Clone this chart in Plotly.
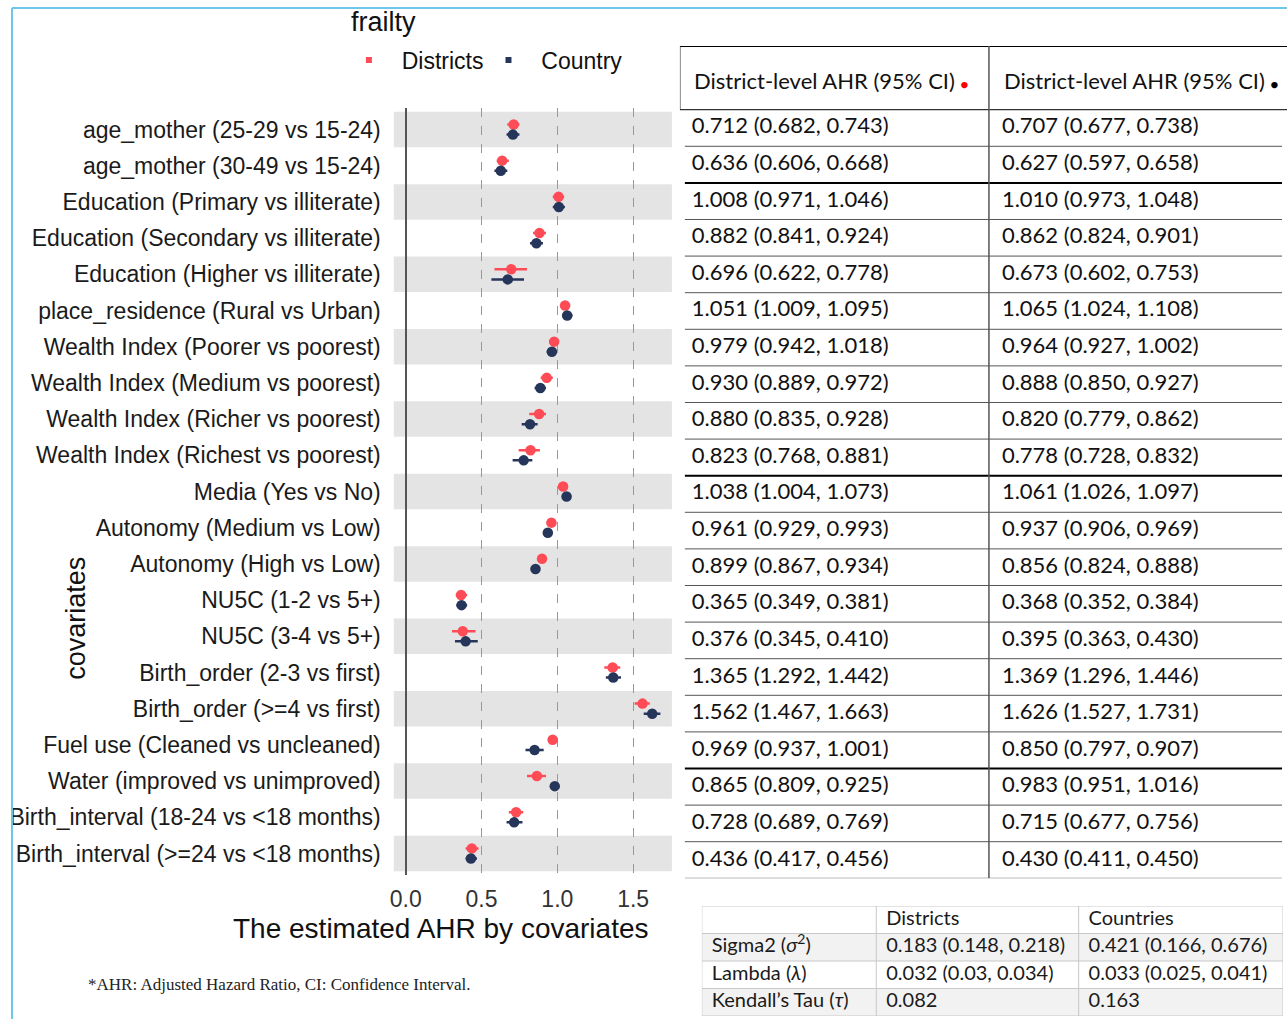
import plotly.graph_objects as go

# ---------------- data ----------------
covariates = [
    "age_mother (25-29 vs 15-24)", "age_mother (30-49 vs 15-24)",
    "Education (Primary vs illiterate)", "Education (Secondary vs illiterate)",
    "Education (Higher vs illiterate)", "place_residence (Rural vs Urban)",
    "Wealth Index (Poorer vs poorest)", "Wealth Index (Medium vs poorest)",
    "Wealth Index (Richer vs poorest)", "Wealth Index (Richest vs poorest)",
    "Media (Yes vs No)", "Autonomy (Medium vs Low)", "Autonomy (High vs Low)",
    "NU5C (1-2 vs 5+)", "NU5C (3-4 vs 5+)", "Birth_order (2-3 vs first)",
    "Birth_order (>=4 vs first)", "Fuel use (Cleaned vs uncleaned)",
    "Water (improved vs unimproved)", "Birth_interval (18-24 vs <18 months)",
    "Birth_interval (>=24 vs <18 months)",
]

# table values (AHR, 95% CI)
district_ahr = [0.712, 0.636, 1.008, 0.882, 0.696, 1.051, 0.979, 0.930, 0.880, 0.823, 1.038,
                0.961, 0.899, 0.365, 0.376, 1.365, 1.562, 0.969, 0.865, 0.728, 0.436]
district_lo = [0.682, 0.606, 0.971, 0.841, 0.622, 1.009, 0.942, 0.889, 0.835, 0.768, 1.004,
               0.929, 0.867, 0.349, 0.345, 1.292, 1.467, 0.937, 0.809, 0.689, 0.417]
district_hi = [0.743, 0.668, 1.046, 0.924, 0.778, 1.095, 1.018, 0.972, 0.928, 0.881, 1.073,
               0.993, 0.934, 0.381, 0.410, 1.442, 1.663, 1.001, 0.925, 0.769, 0.456]
country_ahr = [0.707, 0.627, 1.010, 0.862, 0.673, 1.065, 0.964, 0.888, 0.820, 0.778, 1.061,
               0.937, 0.856, 0.368, 0.395, 1.369, 1.626, 0.850, 0.983, 0.715, 0.430]
country_lo = [0.677, 0.597, 0.973, 0.824, 0.602, 1.024, 0.927, 0.850, 0.779, 0.728, 1.026,
              0.906, 0.824, 0.352, 0.363, 1.296, 1.527, 0.797, 0.951, 0.677, 0.411]
country_hi = [0.738, 0.658, 1.048, 0.901, 0.753, 1.108, 1.002, 0.927, 0.862, 0.832, 1.097,
              0.969, 0.888, 0.384, 0.430, 1.446, 1.731, 0.907, 1.016, 0.756, 0.450]

# error-bar extents as drawn in the forest plot
plot_district_lo = [0.67, 0.60, 0.97, 0.84, 0.585, 1.02, 0.945, 0.89, 0.815, 0.745, 1.01,
                    0.93, 0.87, 0.33, 0.305, 1.31, 1.51, 0.94, 0.80, 0.68, 0.395]
plot_district_hi = [0.75, 0.68, 1.045, 0.925, 0.80, 1.085, 1.01, 0.97, 0.925, 0.885, 1.07,
                    0.99, 0.93, 0.405, 0.46, 1.415, 1.61, 1.00, 0.925, 0.775, 0.48]
plot_country_lo = [0.665, 0.585, 0.97, 0.82, 0.565, 1.035, 0.93, 0.85, 0.765, 0.705, 1.03,
                   0.91, 0.825, 0.335, 0.325, 1.32, 1.57, 0.79, 0.96, 0.665, 0.395]
plot_country_hi = [0.75, 0.67, 1.05, 0.905, 0.78, 1.10, 1.00, 0.925, 0.87, 0.835, 1.09,
                   0.97, 0.885, 0.405, 0.475, 1.42, 1.68, 0.91, 1.00, 0.77, 0.47]

xtick_vals = [0.0, 0.5, 1.0, 1.5]
xtick_text = ["0.0", "0.5", "1.0", "1.5"]
series_names = ["Districts", "Country"]
legend_title = "frailty"
x_title = "The estimated AHR by covariates"
y_title = "covariates"
table_header = "District-level AHR (95% CI)"
thick_after = [1, 9, 17]

frailty_cols = ["", "Districts", "Countries"]
frailty_rows = ["Sigma2 (<i>σ</i><sup>2</sup>)", "Lambda (<i>λ</i>)", "Kendall’s Tau (<i>τ</i>)"]
frailty_districts = ["0.183 (0.148, 0.218)", "0.032 (0.03, 0.034)", "0.082"]
frailty_countries = ["0.421 (0.166, 0.676)", "0.033 (0.025, 0.041)", "0.163"]
frailty_colwidths = [175, 203, 205]

footnote = "*AHR: Adjusted Hazard Ratio, CI: Confidence Interval."

# ---------------- style ----------------
W, H = 1287, 1019
RED = "#FF4B55"
NAVY = "#26365A"
SANS = "Liberation Sans, Arial, sans-serif"
TBL = "Lato, sans-serif"
NB = "\u00a0"


def py(p):
    return 1 - p / H


n = len(covariates)
idx = list(range(n))
off = 0.14

fig = go.Figure()

fig.add_trace(go.Scatter(
    x=district_ahr, y=[i - off for i in idx], mode="markers",
    marker=dict(color=RED, size=10.5),
    error_x=dict(type="data", symmetric=False,
                 array=[h - e for h, e in zip(plot_district_hi, district_ahr)],
                 arrayminus=[e - l for e, l in zip(district_ahr, plot_district_lo)],
                 color=RED, thickness=2.5, width=0),
    showlegend=False, xaxis="x", yaxis="y", hoverinfo="x"))
fig.add_trace(go.Scatter(
    x=country_ahr, y=[i + off for i in idx], mode="markers",
    marker=dict(color=NAVY, size=10.5),
    error_x=dict(type="data", symmetric=False,
                 array=[h - e for h, e in zip(plot_country_hi, country_ahr)],
                 arrayminus=[e - l for e, l in zip(country_ahr, plot_country_lo)],
                 color=NAVY, thickness=2.5, width=0),
    showlegend=False, xaxis="x", yaxis="y", hoverinfo="x"))

# legend entries
legend_labels = [NB * 2 + series_names[0], NB * 2 + series_names[1]]
for name, col in zip(legend_labels, [RED, NAVY]):
    fig.add_trace(go.Scatter(x=[None], y=[None], mode="markers", name=name,
                             marker=dict(color=col, size=6, symbol="square"),
                             xaxis="x", yaxis="y"))


def fmt(e, l, h):
    return f"{e:.3f} ({l:.3f}, {h:.3f})"


for xc, vals in [(12, zip(district_ahr, district_lo, district_hi)),
                 (323, zip(country_ahr, country_lo, country_hi))]:
    fig.add_trace(go.Scatter(
        x=[xc] * n, y=idx, mode="text", text=[fmt(*t) for t in vals],
        textposition="middle right", textfont=dict(family=TBL, size=22, color="#111"),
        xaxis="x2", yaxis="y2", showlegend=False, hoverinfo="skip", cliponaxis=False))

# frailty parameter table (rows: 0 = header, 1..3 = parameters)
col_starts = [sum(frailty_colwidths[:k]) for k in range(3)]
table_total = sum(frailty_colwidths)
columns = [[frailty_cols[0]] + frailty_rows,
           [frailty_cols[1]] + frailty_districts,
           [frailty_cols[2]] + frailty_countries]
for cs, vals in zip(col_starts, columns):
    rows = [(r, v) for r, v in enumerate(vals) if v]
    fig.add_trace(go.Scatter(
        x=[cs + 10] * len(rows), y=[r for r, _ in rows], mode="text", text=[v for _, v in rows],
        textposition="middle right", textfont=dict(family=TBL, size=20, color="#1a1a1a"),
        xaxis="x3", yaxis="y3", showlegend=False, hoverinfo="skip", cliponaxis=False))

shapes = []
# alternating bands
for i in idx[::2]:
    shapes.append(dict(type="rect", xref="x domain", yref="y", x0=0, x1=1,
                       y0=i - 0.49, y1=i + 0.49, fillcolor="#e4e4e4",
                       line=dict(width=0), layer="below"))
# main table lines
for i in idx:
    thick = i in thick_after
    shapes.append(dict(type="line", xref="x2", yref="y2", x0=5, x1=604,
                       y0=i + 0.5, y1=i + 0.5,
                       line=dict(color="#000" if thick else "#555", width=2 if thick else 1)))
shapes.append(dict(type="line", xref="x2", yref="y2", x0=0, x1=609, y0=-0.5, y1=-0.5,
                   line=dict(color="#333", width=1.2)))
shapes.append(dict(type="line", xref="x2", yref="y2", x0=0, x1=609, y0=-2.24, y1=-2.24,
                   line=dict(color="#000", width=2)))
shapes.append(dict(type="line", xref="x2", yref="y2", x0=310, x1=310, y0=-2.24, y1=n - 0.5,
                   line=dict(color="#555", width=1.5)))
shapes.append(dict(type="line", xref="x2", yref="y2", x0=0, x1=0, y0=-2.24, y1=-0.5,
                   line=dict(color="#333", width=1.2)))
# frailty table fills and grid
nrows = len(frailty_rows) + 1
for r in range(1, nrows, 2):
    shapes.append(dict(type="rect", xref="x3", yref="y3", x0=0, x1=table_total,
                       y0=r - 0.5, y1=r + 0.5, fillcolor="#f2f2f2", line=dict(width=0),
                       layer="below"))
for r in range(nrows + 1):
    shapes.append(dict(type="line", xref="x3", yref="y3", x0=0, x1=table_total,
                       y0=r - 0.5, y1=r - 0.5, line=dict(color="#c8c8c8", width=1)))
for cs in col_starts + [table_total]:
    shapes.append(dict(type="line", xref="x3", yref="y3", x0=cs, x1=cs,
                       y0=-0.5, y1=nrows - 0.5, line=dict(color="#c8c8c8", width=1)))
# blue frame
shapes.append(dict(type="line", xref="paper", yref="paper", x0=8 / W, x1=1, y0=py(8), y1=py(8),
                   line=dict(color="#6EC6EA", width=2)))
shapes.append(dict(type="line", xref="paper", yref="paper", x0=8 / W, x1=8 / W, y0=py(8), y1=0,
                   line=dict(color="#6EC6EA", width=2)))

annotations = [
    dict(xref="x2", yref="y2", x=12, y=-1.31, xanchor="left", yanchor="middle", showarrow=False,
         text=table_header + " <span style='color:#ff0000;font-size:13px'>●</span>",
         font=dict(family=TBL, size=22, color="#111")),
    dict(xref="x2", yref="y2", x=323, y=-1.31, xanchor="left", yanchor="middle", showarrow=False,
         text=table_header + " <span style='color:#000;font-size:13px'>●</span>",
         font=dict(family=TBL, size=22, color="#111")),
    dict(xref="paper", yref="paper", x=438 / W, y=py(928), xanchor="center", yanchor="middle",
         showarrow=False, text=x_title, font=dict(family=SANS, size=28, color="#111")),
    dict(xref="paper", yref="paper", x=72 / W, y=py(618), xanchor="center", yanchor="middle",
         showarrow=False, text=y_title, textangle=-90, font=dict(family=SANS, size=27, color="#111")),
    dict(xref="paper", yref="paper", x=346 / W, y=py(22), xanchor="left", yanchor="middle",
         showarrow=False, text=legend_title, font=dict(family=SANS, size=27, color="#111")),
    dict(xref="paper", yref="paper", x=82 / W, y=py(984), xanchor="left", yanchor="middle",
         showarrow=False, text=footnote,
         font=dict(family="Liberation Serif, serif", size=17, color="#222")),
]

fig.update_layout(
    width=W, height=H, margin=dict(l=0, r=0, t=0, b=0),
    paper_bgcolor="white", plot_bgcolor="white",
    font=dict(family=SANS, color="#111"),
    showlegend=True,
    legend=dict(orientation="h", x=346 / W, y=py(60), xanchor="left", yanchor="middle",
                font=dict(size=23, color="#111"), bgcolor="rgba(0,0,0,0)"),
    xaxis=dict(domain=[391 / W, 670 / W], range=[-0.079, 1.756], anchor="y",
               tickvals=xtick_vals, ticktext=xtick_text,
               showgrid=True, gridcolor="#999", griddash="dash", gridwidth=1.2,
               zeroline=True, zerolinecolor="#555", zerolinewidth=1.5,
               showline=False, ticks="", ticklabelstandoff=8,
               tickfont=dict(size=23, color="#333")),
    yaxis=dict(domain=[py(875.2), py(107.8)], range=[n - 1 + 0.6, -0.6], anchor="x",
               tickvals=idx, ticktext=covariates, showgrid=False, zeroline=False,
               showline=False, ticks="", ticklabelstandoff=12,
               tickfont=dict(size=23, color="#1a1a1a")),
    xaxis2=dict(domain=[678 / W, 1.0], range=[0, 609], anchor="y2", visible=False),
    yaxis2=dict(domain=[py(878.3), py(46)], range=[n - 0.5, -2.24], anchor="x2", visible=False),
    xaxis3=dict(domain=[700 / W, 1283 / W], range=[0, table_total], anchor="y3", visible=False),
    yaxis3=dict(domain=[py(1016), py(906)], range=[nrows - 0.5, -0.5], anchor="x3", visible=False),
    shapes=shapes, annotations=annotations,
)

fig.write_html("out.html", config={"displayModeBar": False},
               post_script="document.body.style.margin='0';document.body.style.overflow='hidden';")
